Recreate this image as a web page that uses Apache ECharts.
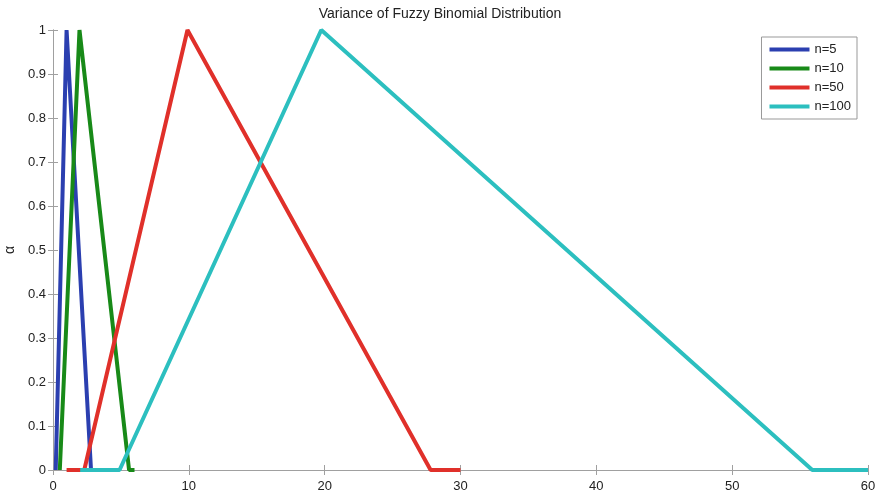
<!DOCTYPE html>
<html>
<head>
<meta charset="utf-8">
<script src="https://cdn.jsdelivr.net/npm/echarts@6/dist/echarts.min.js"></script>
<style>html,body{margin:0;padding:0;background:#fff}#c{width:880px;height:496px}</style>
</head>
<body>
<div id="c"></div>
<script>
var seriesNames = ['n=5', 'n=10', 'n=50', 'n=100'];
var n5 = [[0.2, 0], [1, 1], [2.8, 0]];
var n10 = [[0.5, 0], [1.95, 1], [5.6, 0], [6, 0]];
var n50 = [[1, 0], [2.3, 0], [9.9, 1], [27.8, 0], [30, 0]];
var n100 = [[2, 0], [4.9, 0], [19.75, 1], [55.9, 0], [60, 0]];
var colors = ['#2b3fb0', '#188a18', '#e0302a', '#2cbfbf'];

var chart = echarts.init(document.getElementById('c'));
var font = 'Liberation Sans, Arial, sans-serif';
var axisLineStyle = {lineStyle: {color: '#a0a0a0', width: 1}};
var tickStyle = {inside: true, length: 5, lineStyle: {color: '#a0a0a0'}};
var allData = [n5, n10, n50, n100];
chart.setOption({
  animation: false,
  title: {text: 'Variance of Fuzzy Binomial Distribution', left: 'center', top: 2,
    textStyle: {fontFamily: font, fontSize: 14, fontWeight: 'normal', color: '#222'}},
  grid: {left: 53, right: 12, top: 30, bottom: 26, containLabel: false, outerBoundsMode: 'none'},
  legend: {
    orient: 'vertical', right: 23, top: 37,
    data: seriesNames, icon: 'rect', itemWidth: 40, itemHeight: 4, itemGap: 6,
    padding: [6, 6, 6, 8], borderColor: '#999', borderWidth: 1, backgroundColor: '#fff',
    textStyle: {fontFamily: font, fontSize: 13, color: '#222'}
  },
  xAxis: [{
    type: 'value', min: 0, max: 60, interval: 10,
    axisLine: axisLineStyle, axisTick: tickStyle, splitLine: {show: false},
    axisLabel: {fontFamily: font, fontSize: 13, color: '#222', margin: 10}
  }, {
    type: 'value', min: 0, max: 60, interval: 10, position: 'top',
    axisLine: axisLineStyle, axisTick: tickStyle, splitLine: {show: false}, axisLabel: {show: false}
  }],
  yAxis: [{
    type: 'value', min: 0, max: 1, interval: 0.1,
    name: 'α', nameLocation: 'middle', nameGap: 34, nameRotate: 90,
    nameTextStyle: {fontFamily: font, fontSize: 14, color: '#222'},
    axisLine: axisLineStyle, axisTick: tickStyle, splitLine: {show: false},
    axisLabel: {fontFamily: font, fontSize: 13, color: '#222', margin: 7,
      formatter: function (v) { return String(Math.round(v * 10) / 10); }}
  }, {
    type: 'value', min: 0, max: 1, interval: 0.1, position: 'right',
    axisLine: axisLineStyle, axisTick: tickStyle, splitLine: {show: false}, axisLabel: {show: false}
  }],
  series: seriesNames.map(function (name, i) {
    return {
      name: name, type: 'line', data: allData[i], showSymbol: false, symbol: 'none',
      lineStyle: {width: 4, color: colors[i]}, itemStyle: {color: colors[i]}, z: 2 + i
    };
  })
});
</script>
</body>
</html>
